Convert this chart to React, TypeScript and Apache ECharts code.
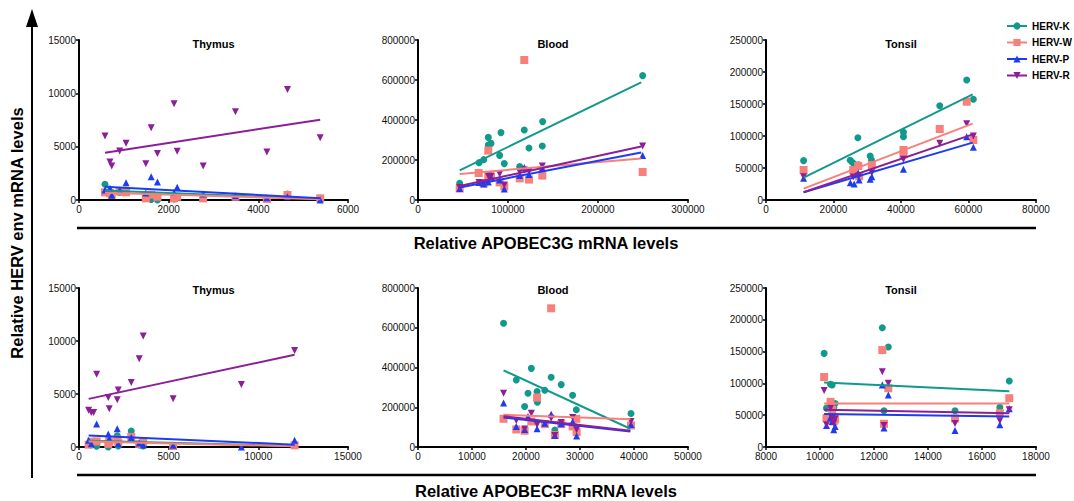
import React, { useEffect, useRef } from "react";
import * as echarts from "echarts";

const FONT = "'Liberation Sans', Arial, Helvetica, sans-serif";

const COLORS = { K: "#11998c", W: "#f8807b", P: "#1c3cf4", R: "#8b1f97" };
const seriesNames = ["HERV-K", "HERV-W", "HERV-P", "HERV-R"];
const panelTitles = ["Thymus", "Blood", "Tonsil", "Thymus", "Blood", "Tonsil"];

// axis ranges [min, max, interval]
const xRanges = [
  [0, 6000, 2000],
  [0, 300000, 100000],
  [0, 80000, 20000],
  [0, 15000, 5000],
  [0, 50000, 10000],
  [8000, 18000, 2000],
];
const yRanges = [
  [0, 15000, 5000],
  [0, 800000, 200000],
  [0, 250000, 50000],
  [0, 15000, 5000],
  [0, 800000, 200000],
  [0, 250000, 50000],
];

// ---- Panel A: Thymus vs APOBEC3G ----
const thyGK = [[580,1470],[690,800],[730,600],[907,700],[1050,900],[1490,300],[1610,50],[1750,0],[2120,100],[2190,300],[2770,200],[3490,300],[4190,100],[4650,560],[5380,150]];
const thyGW = [[580,720],[690,650],[730,500],[907,800],[1050,720],[1490,150],[1610,500],[1750,300],[2120,150],[2190,300],[2770,150],[3490,300],[4190,100],[4650,470],[5380,160]];
const thyGP = [[580,940],[690,1100],[730,440],[907,940],[1050,1625],[1490,650],[1610,2190],[1750,1690],[2120,700],[2190,1190],[2770,560],[3490,400],[4190,200],[4650,300],[5380,0]];
const thyGR = [[580,6000],[690,3560],[730,3190],[907,4590],[1050,5310],[1490,3400],[1610,6780],[1750,4370],[2120,9030],[2190,4560],[2770,3190],[3490,8280],[4190,4500],[4650,10370],[5380,5840]];
const thyGFitK = [[580,900],[5380,100]];
const thyGFitW = [[580,690],[5380,60]];
const thyGFitP = [[580,1250],[5380,160]];
const thyGFitR = [[580,4440],[5380,7530]];

// ---- Panel B: Blood vs APOBEC3G ----
const bloGK = [[46300,83300],[67800,186700],[73000,201700],[78100,313000],[78100,275000],[81100,283000],[92200,337000],[90700,223000],[95900,182000],[113000,167000],[118100,350000],[123300,260000],[138100,270000],[138500,392000],[249600,622000]];
const bloGW = [[46300,57000],[67400,135000],[73000,83000],[78100,247000],[78100,117000],[81100,115000],[90700,88000],[95900,68000],[113000,108000],[118100,700000],[123300,102000],[138100,122000],[249600,140000]];
const bloGP = [[46300,57000],[67800,88000],[73000,80000],[78100,90000],[81100,115000],[90700,100000],[95900,55000],[113000,122000],[118100,163000],[123300,128000],[138100,160000],[249600,222000]];
const bloGR = [[46300,63000],[67800,87000],[73000,85000],[78100,120000],[81100,120000],[90700,130000],[95900,75000],[113000,140000],[118100,150000],[123300,142000],[138100,170000],[249600,270000]];
const bloGFitK = [[46300,148000],[248000,588000]];
const bloGFitW = [[46300,130000],[248000,208000]];
const bloGFitP = [[46300,63000],[248000,238000]];
const bloGFitR = [[46300,70000],[248000,267000]];

// ---- Panel C: Tonsil vs APOBEC3G ----
const tonGK = [[11140,61500],[24950,62000],[25540,58900],[26130,56250],[27220,97400],[27500,55000],[30870,68750],[31260,62500],[40730,105700],[40730,99000],[51480,147400],[59470,187500],[61440,157300]];
const tonGW = [[11140,46900],[25840,46900],[27320,53100],[27600,37000],[31360,54700],[40730,78100],[40730,71400],[51480,110900],[59470,153600],[61440,93750]];
const tonGP = [[11140,33900],[25000,27100],[26130,25000],[27320,42700],[27600,31250],[30870,32300],[31360,36500],[40730,47900],[59470,99000],[61440,82300]];
const tonGR = [[11140,36500],[25840,36000],[27320,37500],[31360,42700],[40730,63500],[51480,88500],[59470,119300],[61440,100000]];
const tonGFitK = [[11140,34900],[61240,165100]];
const tonGFitW = [[11140,17700],[61240,119300]];
const tonGFitP = [[11140,12000],[61240,89600]];
const tonGFitR = [[11140,12000],[61240,102600]];

// ---- Panel D: Thymus vs APOBEC3F ----
const thyFK = [[538,300],[686,200],[983,63],[1633,0],[1688,300],[2134,1065],[2189,100],[2913,1503],[3358,200],[3581,100],[5250,50],[12022,150]];
const thyFW = [[538,220],[686,500],[983,530],[1633,300],[1688,500],[2134,700],[2189,400],[2913,940],[3358,300],[3581,530],[5250,100],[12022,156]];
const thyFP = [[538,626],[686,300],[983,2160],[1633,1220],[1688,800],[2134,1720],[2189,300],[2913,900],[3358,375],[3581,200],[5250,156],[9054,0],[12022,626]];
const thyFR = [[538,3476],[686,3257],[816,3257],[983,6860],[1633,4666],[1688,3600],[2134,4447],[2189,5387],[2913,6076],[3358,8331],[3581,10460],[5250,4541],[9054,5888],[12022,9114]];
const thyFFitK = [[538,600],[12022,100]];
const thyFFitW = [[538,530],[12022,63]];
const thyFFitP = [[538,1096],[12022,219]];
const thyFFitR = [[538,4541],[12022,8700]];

// ---- Panel E: Blood vs APOBEC3F ----
const bloFK = [[15840,622700],[18200,337200],[19750,203700],[20370,270400],[20990,395700],[22050,278800],[22110,225400],[23480,285500],[24660,350600],[25340,85100],[26520,313900],[28630,260400],[29320,187000],[39440,168600]];
const bloFW = [[15840,141900],[18200,88500],[19750,81800],[20990,128500],[22050,248700],[23480,115200],[24660,697800],[25340,60100],[26520,115200],[28630,103500],[29320,141900],[29380,75100],[39440,108500]];
const bloFP = [[15840,222000],[18200,103500],[19750,88500],[20370,153600],[22050,91800],[23480,120000],[24660,165300],[25340,58400],[26520,116900],[28630,126900],[29380,55100],[39440,113500]];
const bloFR = [[15840,270400],[18200,133600],[19750,90100],[20990,170300],[22050,111900],[24660,145200],[25340,58400],[26520,123500],[28630,148600],[29380,86800],[39440,128500]];
const bloFFitK = [[15840,385600],[39320,91800]];
const bloFFitW = [[15840,162000],[39320,140000]];
const bloFFitP = [[15840,148600],[39320,78500]];
const bloFFitR = [[15840,155300],[39320,81800]];

// ---- Panel F: Tonsil vs APOBEC3F ----
const tonFK = [[10153,147200],[10240,61100],[10390,98600],[10450,97600],[10510,62100],[10560,68400],[12307,187400],[12370,56900],[12530,157100],[15000,56900],[16660,62600],[17010,103900]];
const tonFW = [[10153,110100],[10240,45400],[10390,71000],[10450,58500],[10510,40200],[10560,43300],[12307,152400],[12370,36500],[12530,92400],[15000,44900],[16660,53200],[17010,76700]];
const tonFP = [[10240,33900],[10390,46400],[10450,40200],[10510,27100],[10560,32400],[12307,97600],[12370,29700],[12530,81900],[15000,26100],[16660,35000],[17010,60000]];
const tonFR = [[10153,88700],[10240,35000],[10390,61100],[10450,45400],[10510,37600],[10560,44400],[12307,118500],[12370,33900],[12530,100200],[15000,37100],[16660,41200],[17010,58500]];
const tonFFitK = [[10153,101300],[17010,87700]];
const tonFFitW = [[10153,68400],[17010,68400]];
const tonFFitP = [[10153,51700],[17010,48000]];
const tonFFitR = [[10153,58500],[17010,53200]];

const panels = [
  { pts: [thyGK, thyGW, thyGP, thyGR], fits: [thyGFitK, thyGFitW, thyGFitP, thyGFitR] },
  { pts: [bloGK, bloGW, bloGP, bloGR], fits: [bloGFitK, bloGFitW, bloGFitP, bloGFitR] },
  { pts: [tonGK, tonGW, tonGP, tonGR], fits: [tonGFitK, tonGFitW, tonGFitP, tonGFitR] },
  { pts: [thyFK, thyFW, thyFP, thyFR], fits: [thyFFitK, thyFFitW, thyFFitP, thyFFitR] },
  { pts: [bloFK, bloFW, bloFP, bloFR], fits: [bloFFitK, bloFFitW, bloFFitP, bloFFitR] },
  { pts: [tonFK, tonFW, tonFP, tonFR], fits: [tonFFitK, tonFFitW, tonFFitP, tonFFitR] },
];

const grids = [
  { left: 79, top: 40, width: 269, height: 160 },
  { left: 418, top: 40, width: 270, height: 160 },
  { left: 766, top: 40, width: 270, height: 160 },
  { left: 79, top: 288, width: 269, height: 159 },
  { left: 418, top: 288, width: 270, height: 159 },
  { left: 766, top: 288, width: 270, height: 159 },
];

const colorList = [COLORS.K, COLORS.W, COLORS.P, COLORS.R];
const symbols = ["circle", "rect", "triangle", "triangle"];
const rotations = [0, 0, 0, 180];
const sizes = [7, 8, 7, 7];

function buildOption() {
  const axisCommon = {
    axisLine: { lineStyle: { color: "#000", width: 2 } },
    axisTick: { length: 3, lineStyle: { color: "#000", width: 1.5 } },
    splitLine: { show: false },
    axisLabel: {
      color: "#111",
      fontSize: 10,
      fontFamily: FONT,
      margin: 3,
      formatter: (v: number) => String(v),
    },
  };
  const xAxis = xRanges.map((r, i) => ({
    type: "value",
    gridIndex: i,
    min: r[0],
    max: r[1],
    interval: r[2],
    ...axisCommon,
    axisLabel: { ...axisCommon.axisLabel, margin: 4 },
  }));
  const yAxis = yRanges.map((r, i) => ({
    type: "value",
    gridIndex: i,
    min: r[0],
    max: r[1],
    interval: r[2],
    ...axisCommon,
  }));

  const series: any[] = [];
  // legend entries
  seriesNames.forEach((n, k) => {
    series.push({
      name: n,
      type: "line",
      xAxisIndex: 0,
      yAxisIndex: 0,
      data: [],
      symbol: symbols[k],
      symbolRotate: rotations[k],
      symbolSize: sizes[k],
      itemStyle: { color: colorList[k] },
      lineStyle: { color: colorList[k], width: 3 },
    });
  });

  panels.forEach((p, i) => {
    p.pts.forEach((d, k) => {
      series.push({
        name: seriesNames[k] + " pts " + i,
        type: "scatter",
        xAxisIndex: i,
        yAxisIndex: i,
        data: d,
        symbol: symbols[k],
        symbolRotate: rotations[k],
        symbolSize: sizes[k],
        itemStyle: { color: colorList[k], opacity: 1 },
        z: 2,
      });
    });
    p.fits.forEach((d, k) => {
      series.push({
        name: seriesNames[k] + " fit " + i,
        type: "line",
        xAxisIndex: i,
        yAxisIndex: i,
        data: d,
        showSymbol: false,
        symbol: "none",
        lineStyle: { color: colorList[k], width: 2 },
        z: 3,
      });
    });
  });

  const graphic: any[] = [];
  grids.forEach((g, i) => {
    graphic.push({
      type: "text",
      x: g.left + g.width / 2,
      y: i < 3 ? 44 : 290,
      style: {
        text: panelTitles[i],
        textAlign: "center",
        textVerticalAlign: "middle",
        font: `bold 11px ${FONT}`,
        fill: "#000",
      },
    });
  });
  // vertical arrow
  graphic.push({ type: "line", shape: { x1: 32, y1: 24, x2: 32, y2: 478 }, style: { stroke: "#000", lineWidth: 2 } });
  graphic.push({ type: "polygon", shape: { points: [[32, 9], [26, 27], [38, 27]] }, style: { fill: "#000" } });
  // horizontal rules
  graphic.push({ type: "line", shape: { x1: 77, y1: 228, x2: 1036, y2: 228 }, style: { stroke: "#000", lineWidth: 2.5 } });
  graphic.push({ type: "line", shape: { x1: 77, y1: 475, x2: 1036, y2: 475 }, style: { stroke: "#000", lineWidth: 2.5 } });
  graphic.push({
    type: "text", x: 546, y: 243,
    style: { text: "Relative APOBEC3G mRNA levels", textAlign: "center", textVerticalAlign: "middle", font: `bold 16.5px ${FONT}`, fill: "#000" },
  });
  graphic.push({
    type: "text", x: 546, y: 491,
    style: { text: "Relative APOBEC3F mRNA levels", textAlign: "center", textVerticalAlign: "middle", font: `bold 16.5px ${FONT}`, fill: "#000" },
  });
  graphic.push({
    type: "text", x: 17, y: 233, rotation: Math.PI / 2,
    style: { text: "Relative HERV env mRNA levels", textAlign: "center", textVerticalAlign: "middle", font: `bold 16.5px ${FONT}`, fill: "#000" },
  });

  return {
    animation: false,
    backgroundColor: "#fff",
    grid: grids.map((g) => ({ ...g, containLabel: false })),
    xAxis,
    yAxis,
    legend: {
      data: seriesNames,
      orient: "vertical",
      left: 1001,
      top: 16,
      itemWidth: 20,
      itemHeight: 9,
      itemGap: 6.5,
      textStyle: { fontFamily: FONT, fontWeight: "bold", fontSize: 10, color: "#000" },
      selectedMode: false,
    },
    series,
    graphic,
  };
}

export default function App() {
  const ref = useRef<HTMLDivElement>(null);
  useEffect(() => {
    if (!ref.current) return;
    const chart = echarts.init(ref.current, null, { renderer: "svg" });
    chart.setOption(buildOption() as any);
    return () => chart.dispose();
  }, []);
  return (
    <div
      ref={ref}
      style={{ position: "fixed", left: 0, top: 0, width: 1074, height: 501, background: "#fff" }}
    />
  );
}
